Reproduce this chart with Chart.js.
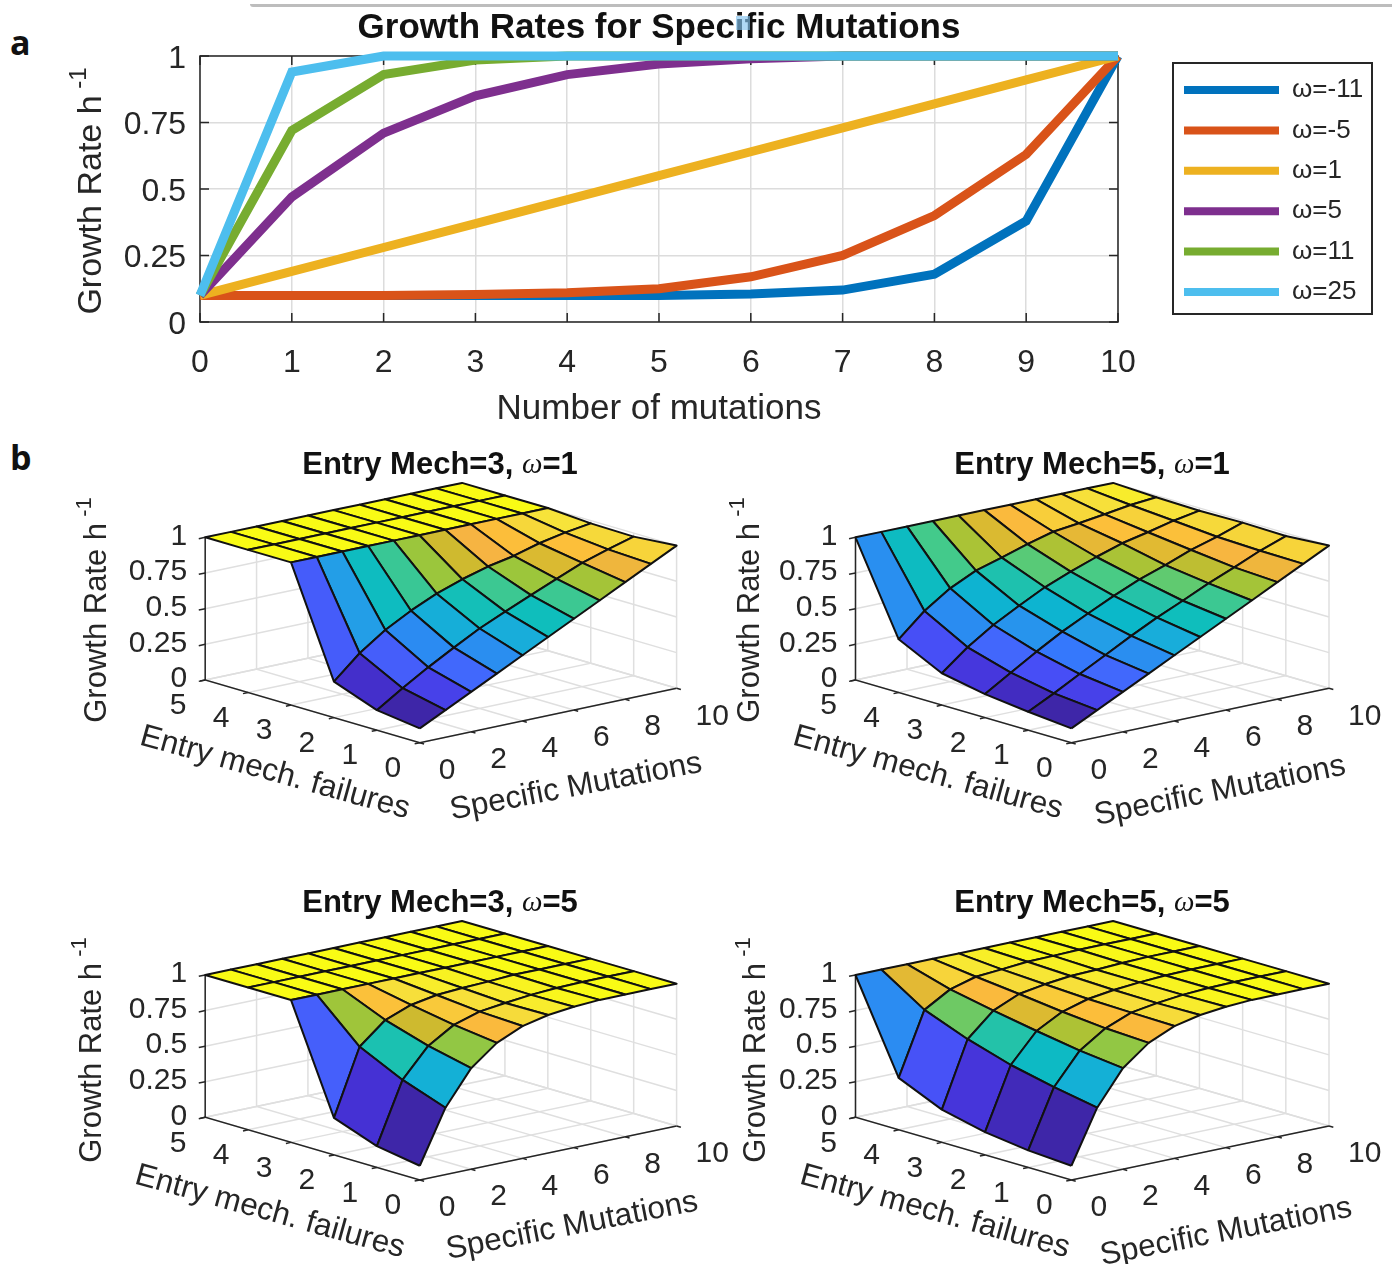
<!DOCTYPE html>
<html>
<head>
<meta charset="utf-8">
<title>Growth Rates for Specific Mutations</title>
<script src="https://cdn.jsdelivr.net/npm/chart.js@4/dist/chart.umd.min.js"></script>
<style>
  html, body { margin: 0; background: #fff; }
  body { position: relative; width: 1392px; height: 1264px; overflow: hidden; }
  canvas { position: absolute; filter: blur(0.5px); }
  .tag { position: absolute; font: bold 34px "Open Sans", sans-serif; color: #111; }
  .rule { position: absolute; left: 250px; right: 0; top: 4px; height: 3px; background: #bdbdbd; border-bottom-left-radius: 6px; }
  .handle { position: absolute; left: 736px; top: 16px; width: 14px; height: 14px; background: rgba(130, 195, 240, .65); }
</style>
</head>
<body>
<div class="rule"></div>
<div class="tag" style="left:10px;top:19px">a</div>
<div class="tag" style="left:10px;top:434px">b</div>
<canvas id="lines" width="1392" height="434" style="left:0;top:0"></canvas>
<div class="handle"></div>

<script>
// panel a
const mutationCounts = [0, 1, 2, 3, 4, 5, 6, 7, 8, 9, 10];
const omegaLabels = ['ω=-11', 'ω=-5', 'ω=1', 'ω=5', 'ω=11', 'ω=25'];
const omegaColors = ['#0072BD', '#D95319', '#EDB120', '#7E2F8E', '#77AC30', '#4DBEEE'];
const omegaM11 = [0.1, 0.1, 0.1, 0.1, 0.1, 0.1, 0.105, 0.12, 0.18, 0.38, 1];
const omegaM5 = [0.1, 0.1, 0.1, 0.103, 0.11, 0.125, 0.17, 0.25, 0.4, 0.63, 1];
const omegaP1 = [0.1, 0.19, 0.28, 0.37, 0.46, 0.55, 0.64, 0.73, 0.82, 0.91, 1];
const omegaP5 = [0.1, 0.47, 0.71, 0.85, 0.93, 0.97, 0.99, 1, 1, 1, 1];
const omegaP11 = [0.1, 0.72, 0.93, 0.985, 1, 1, 1, 1, 1, 1, 1];
const omegaP25 = [0.1, 0.94, 1, 1, 1, 1, 1, 1, 1, 1, 1];
const omegaSeries = [omegaM11, omegaM5, omegaP1, omegaP5, omegaP11, omegaP25];

// panel b, rows are entry mech. failures 0..5, columns specific mutations 0..10
const failureCounts = [0, 1, 2, 3, 4, 5];
const mutationTicks = [0, 2, 4, 6, 8, 10];
const rateTicks = [0, 0.25, 0.5, 0.75, 1];
const flatRow = [1, 1, 1, 1, 1, 1, 1, 1, 1, 1, 1];
const mech3Omega1 = [
  omegaP1,
  [0.14, 0.256, 0.364, 0.464, 0.56, 0.64, 0.718, 0.793, 0.867, 0.924, 0.975],
  [0.252, 0.413, 0.538, 0.635, 0.716, 0.779, 0.83, 0.866, 0.917, 0.953, 0.98],
  flatRow, flatRow, flatRow
];
const mech5Omega1 = [
  omegaP1,
  [0.129, 0.22, 0.317, 0.412, 0.508, 0.598, 0.678, 0.762, 0.836, 0.914, 0.979],
  [0.165, 0.277, 0.386, 0.488, 0.577, 0.663, 0.74, 0.802, 0.87, 0.924, 0.985],
  [0.223, 0.367, 0.485, 0.582, 0.673, 0.744, 0.809, 0.867, 0.906, 0.949, 0.981],
  [0.373, 0.533, 0.654, 0.74, 0.793, 0.85, 0.898, 0.919, 0.944, 0.971, 0.987],
  flatRow
];
const mech3Omega5 = [
  omegaP5,
  [0.15, 0.577, 0.778, 0.888, 0.943, 0.966, 0.985, 0.995, 1, 1, 1],
  [0.26, 0.722, 0.872, 0.94, 0.972, 0.983, 0.99, 1, 1, 1, 1],
  flatRow, flatRow, flatRow
];
const mech5Omega5 = [
  omegaP5,
  [0.12, 0.526, 0.745, 0.864, 0.936, 0.965, 0.985, 0.995, 1, 1, 1],
  [0.16, 0.594, 0.795, 0.892, 0.944, 0.969, 0.985, 0.995, 1, 1, 1],
  [0.23, 0.687, 0.85, 0.929, 0.959, 0.98, 0.985, 0.995, 1, 1, 1],
  [0.365, 0.805, 0.911, 0.962, 0.976, 0.992, 0.995, 1, 1, 1, 1],
  flatRow
];

const INK = '#262626';
const SANS = '"Liberation Sans", Arial, sans-serif';
const SERIF = '"Liberation Serif", serif';

// parula, sampled
const parula = [
  [0, 62, 38, 168], [0.06, 70, 50, 215], [0.125, 72, 75, 245], [0.19, 68, 100, 252],
  [0.25, 50, 124, 252], [0.31, 40, 145, 238], [0.375, 32, 168, 226], [0.44, 10, 182, 205],
  [0.5, 15, 190, 188], [0.56, 40, 195, 165], [0.625, 72, 203, 134], [0.684, 155, 198, 60],
  [0.72, 175, 194, 52], [0.754, 207, 186, 47], [0.78, 225, 186, 50], [0.81, 246, 180, 66],
  [0.85, 252, 190, 58], [0.908, 246, 215, 58], [0.948, 247, 227, 58], [1, 249, 251, 21]
];
function parulaColor(t) {
  let i = 0;
  while (i < parula.length - 2 && t > parula[i + 1][0]) i++;
  const a = parula[i], b = parula[i + 1], k = Math.min(1, Math.max(0, (t - a[0]) / (b[0] - a[0])));
  return `rgb(${[1, 2, 3].map(c => Math.round(a[c] + (b[c] - a[c]) * k)).join(',')})`;
}

// writes mixed font text, centred on x,y and turned by angle (degrees)
function drawRuns(ctx, runs, x, y, angle, color) {
  ctx.save();
  ctx.translate(x, y);
  ctx.rotate(angle * Math.PI / 180);
  ctx.fillStyle = color || INK;
  ctx.textBaseline = 'middle';
  ctx.textAlign = 'left';
  let total = 0;
  runs.forEach(r => { ctx.font = r.font; total += ctx.measureText(r.text).width; });
  let cx = -total / 2;
  runs.forEach(r => {
    ctx.font = r.font;
    ctx.fillText(r.text, cx, r.dy || 0);
    cx += ctx.measureText(r.text).width;
  });
  ctx.restore();
}

function rateLabelRuns(size) {
  return [
    { text: 'Growth Rate h', font: `${size}px ${SANS}` },
    { text: ' -1', font: `${Math.round(size * 0.7)}px ${SANS}`, dy: -size * 0.38 }
  ];
}

// ---- panel a ----
const frame = {
  id: 'frame',
  afterLayout(chart) {
    const l = chart.legend;
    l.left = 1169.6; l.right = 1369; l.top = 62.6; l.bottom = 380;
  },
  beforeDatasetsDraw(chart) {
    const { ctx, chartArea: a, scales: { x, y } } = chart;
    ctx.save();
    ctx.strokeStyle = INK;
    ctx.lineWidth = 1.5;
    ctx.strokeRect(a.left, a.top, a.right - a.left, a.bottom - a.top);
    ctx.beginPath();
    mutationCounts.forEach(m => {
      const px = x.getPixelForValue(m);
      ctx.moveTo(px, a.bottom); ctx.lineTo(px, a.bottom - 9);
      ctx.moveTo(px, a.top); ctx.lineTo(px, a.top + 9);
    });
    rateTicks.forEach(r => {
      const py = y.getPixelForValue(r);
      ctx.moveTo(a.left, py); ctx.lineTo(a.left + 9, py);
      ctx.moveTo(a.right, py); ctx.lineTo(a.right - 9, py);
    });
    ctx.stroke();
    ctx.restore();
  },
  afterDraw(chart) {
    const ctx = chart.ctx;
    ctx.save();
    ctx.strokeStyle = INK;
    ctx.lineWidth = 2;
    ctx.strokeRect(1173, 63, 199, 251);
    ctx.restore();
    drawRuns(ctx, rateLabelRuns(34), 92, 191, -90);
  }
};

new Chart(document.getElementById('lines'), {
  type: 'line',
  data: {
    labels: mutationCounts,
    datasets: omegaSeries.map((values, i) => ({
      label: omegaLabels[i],
      data: values,
      borderColor: omegaColors[i],
      backgroundColor: omegaColors[i],
      borderWidth: 9,
      pointRadius: 0,
      tension: 0,
      clip: false,
      order: omegaSeries.length - i
    }))
  },
  options: {
    responsive: false,
    animation: false,
    events: [],
    layout: { padding: { right: 74 } },
    scales: {
      x: {
        type: 'linear', min: 0, max: 10,
        afterFit(s) { s.height = 112; },
        grid: { color: '#dcdcdc', lineWidth: 1.5, drawTicks: false },
        border: { display: false },
        ticks: { stepSize: 1, autoSkip: false, maxRotation: 0, padding: 22, color: INK, font: { family: SANS, size: 32 } },
        title: { display: true, text: 'Number of mutations', color: INK, padding: { top: 10 }, font: { family: SANS, size: 35 } }
      },
      y: {
        min: 0, max: 1,
        afterFit(s) { s.width = 200; },
        grid: { color: '#dcdcdc', lineWidth: 1.5, drawTicks: false },
        border: { display: false },
        ticks: { stepSize: 0.25, padding: 14, labelOffset: 3, color: INK, font: { family: SANS, size: 32 }, callback: v => String(v) }
      }
    },
    plugins: {
      tooltip: { enabled: false },
      title: {
        display: true, text: 'Growth Rates for Specific Mutations', color: '#111', fullSize: false,
        padding: { top: 7, bottom: 7 }, font: { family: SANS, size: 35, weight: 'bold' }
      },
      legend: {
        position: 'right', align: 'start', maxWidth: 200,
        labels: {
          boxWidth: 95, boxHeight: 8, padding: 14.4, color: INK, font: { family: SANS, size: 26 },
          generateLabels: chart => chart.data.datasets.map((d, i) => ({
            text: d.label, fillStyle: d.borderColor, strokeStyle: d.borderColor, lineWidth: 0, datasetIndex: i, fontColor: INK
          }))
        }
      }
    }
  },
  plugins: [frame]
});

// ---- panel b ----
const panels = [
  { values: mech3Omega1, mech: 3, omega: 1, top: 440, left: 60, front: [419.8, 742.7], side: [205.2, 680], far: [676.6, 688.3], zUnit: 142.7,
    title: [440, 465], rate: [97, 610], entry: [275, 773, 15.5], spec: [576, 787, -10.8] },
  { values: mech5Omega1, mech: 5, omega: 1, top: 440, left: 715, front: [1071.4, 742.7], side: [855.5, 680], far: [1329, 688.3], zUnit: 142.7,
    title: [1092, 465], rate: [750, 610], entry: [928, 773, 15.5], spec: [1220, 791, -11.5] },
  { values: mech3Omega5, mech: 3, omega: 5, top: 880, left: 60, front: [419.8, 1180], side: [205.2, 1117.3], far: [676.6, 1126], zUnit: 142.3,
    title: [440, 903], rate: [92, 1050], entry: [270, 1212, 15.5], spec: [572, 1226, -11] },
  { values: mech5Omega5, mech: 5, omega: 5, top: 880, left: 715, front: [1071.4, 1180], side: [855.5, 1117.3], far: [1329, 1126], zUnit: 142.3,
    title: [1092, 903], rate: [756, 1050], entry: [935, 1212, 15.5], spec: [1226, 1232, -11] }
];

function surfaceDatasets(p) {
  const at = (m, f, z) => ({
    x: p.front[0] + m * (p.far[0] - p.front[0]) / 10 + f * (p.side[0] - p.front[0]) / 5,
    y: p.front[1] + m * (p.far[1] - p.front[1]) / 10 + f * (p.side[1] - p.front[1]) / 5 - z * p.zUnit
  });
  const sets = [];
  const line = (pts, color, width) => sets.push({ data: pts, showLine: true, pointRadius: 0, borderColor: color, borderWidth: width, fill: false });

  // back walls and floor
  const GRID = '#dfdfdf';
  rateTicks.forEach(z => {
    line([at(0, 5, z), at(10, 5, z), at(10, 0, z)], GRID, 1.5);
  });
  mutationTicks.forEach(m => {
    line([at(m, 0, 0), at(m, 5, 0), at(m, 5, 1)], GRID, 1.5);
  });
  failureCounts.forEach(f => {
    line([at(0, f, 0), at(10, f, 0), at(10, f, 1)], GRID, 1.5);
  });

  // axis lines with their ticks
  line([at(0, 5, 1), at(0, 5, 0), at(0, 0, 0), at(10, 0, 0)], INK, 1.5);
  rateTicks.forEach(z => line([at(0, 5, z), at(-0.25, 5, z)], INK, 1.5));
  mutationTicks.forEach(m => line([at(m, 0, 0), at(m, -0.1, 0)], INK, 1.5));
  failureCounts.forEach(f => line([at(0, f, 0), at(-0.2, f, 0)], INK, 1.5));

  // cells, far ones first
  for (let f = failureCounts.length - 2; f >= 0; f--) {
    for (let m = mutationCounts.length - 2; m >= 0; m--) {
      const v = p.values;
      sets.push({
        data: [at(m, f, v[f][m]), at(m + 1, f, v[f][m + 1]), at(m + 1, f + 1, v[f + 1][m + 1]), at(m, f + 1, v[f + 1][m]), at(m, f, v[f][m])],
        showLine: true, pointRadius: 0,
        borderColor: '#111', borderWidth: 2, borderJoinStyle: 'round',
        backgroundColor: parulaColor((v[f][m] - 0.1) / 0.9),
        fill: 'shape'
      });
    }
  }
  return { sets: sets.reverse(), at };
}

panels.forEach(p => {
  const W = 677, H = 424;
  const canvas = document.createElement('canvas');
  canvas.width = W; canvas.height = H;
  canvas.style.left = p.left + 'px';
  canvas.style.top = p.top + 'px';
  document.body.appendChild(canvas);
  const { sets, at } = surfaceDatasets(p);

  const panelText = {
    id: 'panelText',
    afterDraw(chart) {
      const { ctx, scales: { x, y } } = chart;
      const sx = v => x.getPixelForValue(v), sy = v => y.getPixelForValue(v);
      const tickFont = `30px ${SANS}`;
      const bold = `bold 31px ${SANS}`;
      drawRuns(ctx, [
        { text: `Entry Mech=${p.mech}, `, font: bold },
        { text: 'ω', font: `italic 29px ${SERIF}` },
        { text: `=${p.omega}`, font: bold }
      ], sx(p.title[0]), sy(p.title[1]), 0, '#111');
      drawRuns(ctx, rateLabelRuns(31), sx(p.rate[0]), sy(p.rate[1]), -90);
      drawRuns(ctx, [{ text: 'Entry mech. failures', font: `31.5px ${SANS}` }], sx(p.entry[0]), sy(p.entry[1]), p.entry[2]);
      drawRuns(ctx, [{ text: 'Specific Mutations', font: `31.5px ${SANS}` }], sx(p.spec[0]), sy(p.spec[1]), p.spec[2]);

      ctx.save();
      ctx.fillStyle = INK;
      ctx.font = tickFont;
      ctx.textBaseline = 'middle';
      ctx.textAlign = 'right';
      rateTicks.forEach(z => {
        const q = at(0, 5, z);
        ctx.fillText(String(z), sx(q.x - 18), sy(q.y - 1));
      });
      ctx.textAlign = 'center';
      failureCounts.forEach(f => {
        const q = at(0, f, 0);
        ctx.fillText(String(f), sx(q.x - 27), sy(q.y + 26));
      });
      ctx.textAlign = 'left';
      mutationTicks.forEach(m => {
        const q = at(m, 0, 0);
        ctx.fillText(String(m), sx(q.x + 19), sy(q.y + 28));
      });
      ctx.restore();
    }
  };

  new Chart(canvas, {
    type: 'scatter',
    data: { datasets: sets },
    options: {
      responsive: false,
      animation: false,
      events: [],
      layout: { autoPadding: false, padding: 0 },
      scales: {
        x: { type: 'linear', display: false, min: p.left, max: p.left + W },
        y: { type: 'linear', display: false, reverse: true, min: p.top, max: p.top + H }
      },
      plugins: { legend: { display: false }, tooltip: { enabled: false } }
    },
    plugins: [panelText]
  });
});
</script>
</body>
</html>
